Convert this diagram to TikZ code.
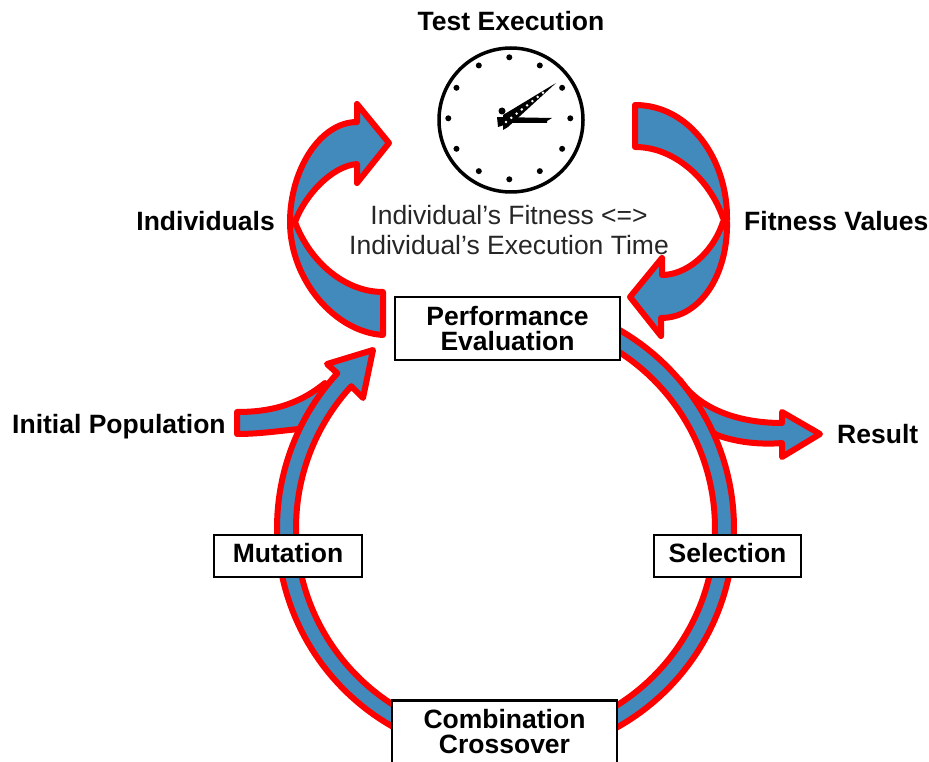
\documentclass[tikz,border=0pt]{standalone}
\usepackage{fontspec}
\setmainfont{Liberation Sans}
\definecolor{bandblue}{RGB}{66,137,188}
\newcommand{\ringx}[1]{505.5+#1*cos(\x)}
\newcommand{\ringy}[1]{528+#1*sin(\x)}
\tikzset{
  band/.style={draw=red,fill=bandblue,line width=6pt,line join=round},
  stagebox/.style={draw=black,fill=white,line width=2.6pt,font=\fontsize{26.5}{25.5}\selectfont\bfseries,
    align=center,inner sep=0pt},
  heading/.style={font=\fontsize{26.5}{25}\selectfont\bfseries,inner sep=0pt},
  remark/.style={font=\fontsize{26.5}{30}\selectfont,inner sep=0pt,text=black!85}
}

\begin{document}
\begin{tikzpicture}[x=1pt,y=-1pt]
  \useasboundingbox (0,0) rectangle (929,762);

  \draw[band] (237,412) .. controls (268,412) and (297,406) .. (325,383) -- (335,395) -- (310,428)
    .. controls (285,430) and (262,434) .. (237,434) -- cycle;
  \draw[band] (670,385) -- (680,380) .. controls (700,410) and (740,423) .. (782,423) -- (782,412) -- (820,434)
    -- (782,457) -- (782,443) .. controls (760,445) and (735,442) .. (717,435) -- (700,425) -- cycle;

  \draw[band] plot[domain=-62:62,samples=60] ({\ringx{228.5}},{\ringy{228.5}})
    -- plot[domain=62:-62,samples=60] ({\ringx{209.5}},{\ringy{209.5}}) -- cycle;
  \draw[band] plot[domain=118:222.6,samples=60] ({\ringx{228.5}},{\ringy{228.5}})
    -- (327,364) -- (373,350) -- (363,398) -- (352,387)
    -- plot[domain=222.6:118,samples=60] ({\ringx{209.5}},{\ringy{209.5}}) -- cycle;

  \draw[band] (357,122) .. controls (320,122) and (290,170) .. (290,222)
    -- (295,222) .. controls (305,195) and (332,166) .. (357,164) -- (357,183) -- (389,143) -- (357,104) -- cycle;
  \draw[band] (290,222) .. controls (290,280) and (335,332) .. (383,335) -- (383,292)
    .. controls (345,292) and (310,262) .. (295,222) -- cycle;
  \draw[band] (635,105) .. controls (690,105) and (728,160) .. (727,220) -- (723,218)
    .. controls (710,180) and (675,147) .. (635,147) -- cycle;
  \draw[band] (727,222) .. controls (728,275) and (700,318) .. (661,318) -- (661,336) -- (630,297) -- (662,258)
    -- (662,275) .. controls (685,275) and (712,255) .. (723,222) -- cycle;

  \node[draw=black,line width=3.5pt,circle,minimum size=144pt,inner sep=0pt] (clock) at (511,120) {};
  \foreach \a in {0,30,...,330}
    \fill ({509.3+61*cos(\a)},{118.3+61*sin(\a)}) circle (3pt);
  \fill (497,117) -- (552,118) -- (547,121) -- (547,123) -- (510,123) -- (498,127) -- cycle;
  \fill (502,111) circle (3.5pt);
  \fill (503,115) -- (556,83) -- (508,127) -- (503,130) -- cycle;
  \foreach \t in {0,0.11,...,0.8}
    \fill[white] ({506+\t*48},{122-\t*38}) circle (1.4pt);

  \node[stagebox,minimum width=225pt,minimum height=63pt] (perf) at (507.5,328.5) {Performance\\Evaluation};
  \node[stagebox,minimum width=148pt,minimum height=42pt,text depth=6pt] (mutation) at (288,556) {Mutation};
  \node[stagebox,minimum width=147pt,minimum height=42pt,text depth=6pt] (selection) at (727.5,556) {Selection};
  \node[stagebox,minimum width=225pt,minimum height=90pt,anchor=north] (combination) at (504.5,699) {};
  \node[font=\fontsize{26.5}{25}\selectfont\bfseries,align=center,inner sep=0pt] (combtext) at (504.5,731.5) {Combination\\Crossover};

  \node[heading] (test) at (511,21) {Test Execution};
  \node[heading,anchor=east] (indiv) at (275,221) {Individuals};
  \node[heading,anchor=west] (fitval) at (744,221) {Fitness Values};
  \node[heading,anchor=west] (initpop) at (12,427) {Initial Population};
  \node[heading,anchor=west] (result) at (837,434) {Result};
  \node[remark,align=center] (fitness) at (509,230) {Individual's Fitness <=>\\Individual's Execution Time};
\end{tikzpicture}
\end{document}
